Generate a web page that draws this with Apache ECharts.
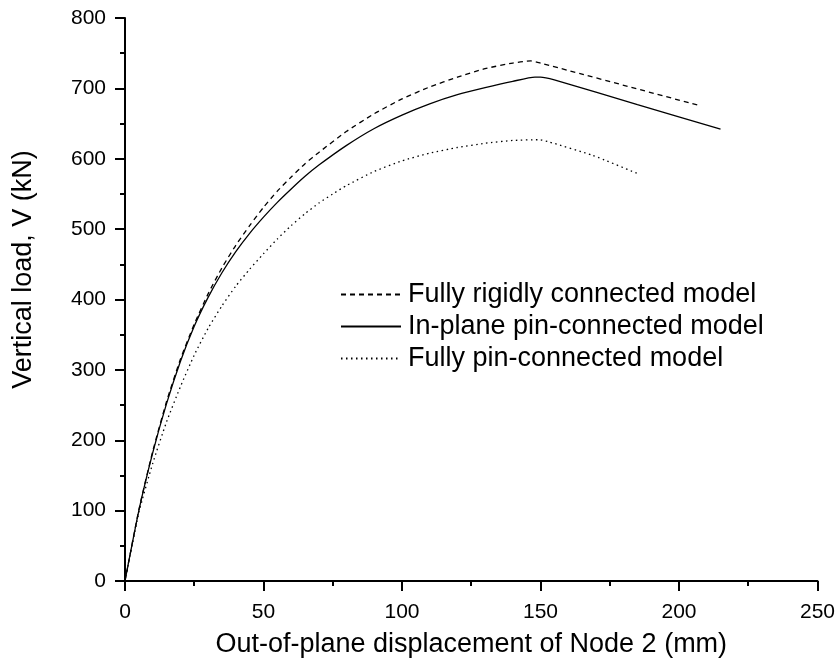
<!DOCTYPE html>
<html>
<head>
<meta charset="utf-8">
<script src="https://cdn.jsdelivr.net/npm/echarts@6/dist/echarts.min.js"></script>
<style>
  html, body { margin: 0; padding: 0; background: #fff; }
  #chart { width: 838px; height: 664px; }
</style>
</head>
<body>
<div id="chart"></div>
<script>
const seriesNames = ["Fully rigidly connected model", "In-plane pin-connected model", "Fully pin-connected model"];

const rigidDisp = [0, 5, 10, 15, 20, 25, 30, 35, 40, 45, 50, 55, 60, 65, 70, 80, 90, 100, 110, 120, 130, 140, 146.5, 150, 207];
const rigidLoad = [0, 101, 184, 255, 315, 365, 408, 445, 477, 505, 531, 554, 574, 593, 609, 639, 664, 685, 702, 716, 728, 736, 739, 736, 676];

const inPlaneDisp = [0, 5, 10, 15, 20, 25, 30, 35, 40, 45, 50, 55, 60, 65, 70, 80, 90, 100, 110, 120, 130, 140, 148, 150, 155, 185, 215];
const inPlaneLoad = [0, 100, 182, 252, 312, 362, 403, 438, 468, 494, 517, 538, 557, 575, 591, 619, 643, 662, 678, 691, 701, 710, 716, 716, 712, 677, 642];

const pinDisp = [0, 5, 10, 15, 20, 25, 30, 35, 40, 45, 50, 55, 60, 65, 70, 75, 80, 90, 100, 110, 120, 130, 140, 149.5, 153, 168.7, 185];
const pinLoad = [0, 97, 167, 226, 276, 321, 359, 391, 419, 443, 465, 486, 505, 522, 537, 550, 562, 582, 597, 608, 616, 622, 626, 627, 624, 605, 579];

const xTicks = [0, 50, 100, 150, 200, 250];
const yTicks = [0, 100, 200, 300, 400, 500, 600, 700, 800];

const zip = (xs, ys) => xs.map((x, i) => [x, ys[i]]);

const chart = echarts.init(document.getElementById("chart"));
const font = "Liberation Sans, Arial, sans-serif";

const axisCommon = {
  axisLine: { show: true, onZero: false, lineStyle: { color: "#000", width: 2 } },
  axisTick: { show: true, inside: false, length: 10, lineStyle: { color: "#000", width: 2 } },
  minorTick: { show: true, splitNumber: 2, length: 5, lineStyle: { color: "#000", width: 2 } },
  splitLine: { show: false },
  nameLocation: "middle",
};

const lineSeries = (name, xs, ys, dash) => ({
  name,
  type: "line",
  symbol: "none",
  smooth: 0.2,
  data: zip(xs, ys),
  lineStyle: { color: "#000", width: 1.3, type: dash },
  itemStyle: { color: "#000" },
});

const option = {
  animation: false,
  backgroundColor: "#fff",
  grid: { left: 125, right: 19, top: 18, bottom: 83, containLabel: false },
  legend: {
    orient: "vertical",
    left: 340,
    top: 281,
    padding: 0,
    itemWidth: 60,
    itemHeight: 14,
    itemGap: 5,
    itemStyle: { opacity: 0 },
    textStyle: { color: "#000", fontFamily: font, fontSize: 27, lineHeight: 27, padding: [0, 0, 0, 2] },
    data: seriesNames,
  },
  xAxis: {
    ...axisCommon,
    type: "value",
    min: xTicks[0],
    max: xTicks[xTicks.length - 1],
    interval: 50,
    name: "Out-of-plane displacement of Node 2 (mm)",
    nameGap: 50,
    nameTextStyle: { color: "#000", fontFamily: font, fontSize: 27 },
    axisLabel: { color: "#000", fontFamily: font, fontSize: 21, margin: 21 },
  },
  yAxis: {
    ...axisCommon,
    type: "value",
    min: yTicks[0],
    max: yTicks[yTicks.length - 1],
    interval: 100,
    name: "Vertical load, V (kN)",
    nameGap: 88,
    nameTextStyle: { color: "#000", fontFamily: font, fontSize: 27, padding: [0, 0, 0, 60] },
    axisLabel: { color: "#000", fontFamily: font, fontSize: 21, margin: 19 },
  },
  series: [
    lineSeries(seriesNames[0], rigidDisp, rigidLoad, [5, 4]),
    lineSeries(seriesNames[1], inPlaneDisp, inPlaneLoad, "solid"),
    lineSeries(seriesNames[2], pinDisp, pinLoad, [1.5, 3.5]),
  ],
};

chart.setOption(option);
</script>
</body>
</html>
